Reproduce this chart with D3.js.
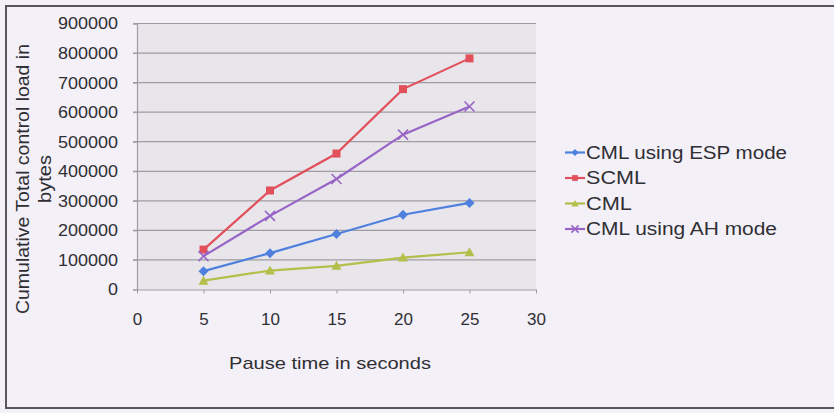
<!DOCTYPE html>
<html>
<head>
<meta charset="utf-8">
<script src="https://cdn.jsdelivr.net/npm/d3@7"></script>
<style>
  html, body { margin: 0; padding: 0; background: #f4f0f8; }
  svg { display: block; }
  text { font-family: "Liberation Sans", Arial, sans-serif; fill: #2f2f33; }
</style>
</head>
<body>
<svg id="chart" width="834" height="413"></svg>
<script>
// Pause time (seconds) on the x axis
const pauseTimes = [5, 10, 15, 20, 25];
const xTicks = [0, 5, 10, 15, 20, 25, 30];
const yTicks = [0, 100000, 200000, 300000, 400000, 500000, 600000, 700000, 800000, 900000];

// Cumulative control load (bytes) per protocol
const espValues  = [62000, 123000, 188000, 253000, 293000];
const scmlValues = [135000, 335000, 460000, 678000, 782000];
const cmlValues  = [30000, 64000, 80000, 108000, 126000];
const ahValues   = [113000, 249000, 374000, 524000, 619000];

const seriesNames = ["CML using ESP mode", "SCML", "CML", "CML using AH mode"];

const series = [
  { name: seriesNames[0], values: espValues,  color: "#4f80de", marker: "diamond" },
  { name: seriesNames[1], values: scmlValues, color: "#e2505c", marker: "square" },
  { name: seriesNames[2], values: cmlValues,  color: "#b3bf4a", marker: "triangle" },
  { name: seriesNames[3], values: ahValues,   color: "#9865c6", marker: "cross" }
];

const svg = d3.select("#chart");

// chart frame
svg.append("rect")
  .attr("x", 6).attr("y", 6).attr("width", 840).attr("height", 402)
  .attr("fill", "#f4f0f8").attr("stroke", "#58565c").attr("stroke-width", 2);

const plot = { left: 137, right: 536, top: 23.5, bottom: 289.5 };

const x = d3.scaleLinear().domain([0, 30]).range([plot.left, plot.right]);
const y = d3.scaleLinear().domain([0, 900000]).range([plot.bottom, plot.top]);

// plot area
svg.append("rect")
  .attr("x", plot.left).attr("y", plot.top)
  .attr("width", plot.right - plot.left).attr("height", plot.bottom - plot.top)
  .attr("fill", "#e8e6eb");

// horizontal gridlines
svg.append("g").selectAll("line")
  .data(yTicks.filter(v => v > 0))
  .join("line")
  .attr("x1", plot.left - 4).attr("x2", plot.right)
  .attr("y1", d => y(d)).attr("y2", d => y(d))
  .attr("stroke", "#9e9ca2").attr("stroke-width", 1.2);

// y axis
const yAxis = svg.append("g")
  .attr("transform", `translate(${plot.left},0)`)
  .call(d3.axisLeft(y).tickValues(yTicks).tickFormat(d3.format("d")).tickSize(4).tickPadding(15));
yAxis.select(".domain").attr("stroke", "#9e9ca2").attr("stroke-width", 1.2);
yAxis.selectAll(".tick line").attr("stroke", "#9e9ca2");
yAxis.selectAll(".tick text")
  .attr("font-size", 17).attr("fill", "#2f2f33")
  .attr("textLength", function () { return this.textContent.length * 10; })
  .attr("lengthAdjust", "spacingAndGlyphs");

// x axis
const xAxis = svg.append("g")
  .attr("transform", `translate(0,${plot.bottom})`)
  .call(d3.axisBottom(x).tickValues(xTicks).tickSize(4).tickPadding(19).tickSizeOuter(0));
xAxis.select(".domain").attr("stroke", "#9e9ca2").attr("stroke-width", 1.2);
xAxis.selectAll(".tick line").attr("stroke", "#9e9ca2");
xAxis.selectAll(".tick text").attr("font-size", 17).attr("fill", "#2f2f33");

// axis titles
svg.append("text")
  .attr("x", 229).attr("y", 369)
  .attr("font-size", 17)
  .attr("textLength", 202).attr("lengthAdjust", "spacingAndGlyphs")
  .text("Pause time in seconds");

const yTitle = svg.append("g").attr("transform", "translate(0,179) rotate(-90)");
yTitle.append("text")
  .attr("x", 0).attr("y", 29).attr("text-anchor", "middle")
  .attr("font-size", 18)
  .attr("textLength", 270).attr("lengthAdjust", "spacingAndGlyphs")
  .text("Cumulative Total control load in");
yTitle.append("text")
  .attr("x", 0).attr("y", 51).attr("text-anchor", "middle")
  .attr("font-size", 18)
  .attr("textLength", 48).attr("lengthAdjust", "spacingAndGlyphs")
  .text("bytes");

// marker shapes
function drawMarker(g, type, color, size) {
  const s = size;
  if (type === "diamond") {
    g.append("path").attr("d", `M0,${-s}L${s},0L0,${s}L${-s},0Z`).attr("fill", color);
  } else if (type === "square") {
    g.append("rect").attr("x", -s * 0.8).attr("y", -s * 0.8)
      .attr("width", s * 1.6).attr("height", s * 1.6).attr("fill", color);
  } else if (type === "triangle") {
    g.append("path").attr("d", `M0,${-s}L${s},${s * 0.8}L${-s},${s * 0.8}Z`).attr("fill", color);
  } else {
    g.append("path").attr("d", `M${-s},${-s}L${s},${s}M${-s},${s}L${s},${-s}`)
      .attr("stroke", color).attr("stroke-width", 1.6).attr("fill", "none");
  }
}

const line = d3.line().x((d, i) => x(pauseTimes[i])).y(d => y(d));

series.forEach(s => {
  const g = svg.append("g");
  g.append("path")
    .attr("d", line(s.values))
    .attr("fill", "none").attr("stroke", s.color).attr("stroke-width", 2.2);
  s.values.forEach((v, i) => {
    const m = g.append("g").attr("transform", `translate(${x(pauseTimes[i])},${y(v)})`);
    drawMarker(m, s.marker, s.color, 5);
  });
});

// legend
const legendWidths = { "CML using ESP mode": 201, "SCML": 60, "CML": 46, "CML using AH mode": 191 };
const legend = svg.append("g").attr("transform", "translate(565,152.5)");
series.forEach((s, i) => {
  const row = legend.append("g").attr("transform", `translate(0,${i * 25.5})`);
  row.append("line").attr("x1", 0).attr("x2", 20).attr("y1", 0).attr("y2", 0)
    .attr("stroke", s.color).attr("stroke-width", 2.2);
  const m = row.append("g").attr("transform", "translate(10,0)");
  drawMarker(m, s.marker, s.color, 3.6);
  row.append("text")
    .attr("x", 21).attr("y", 0).attr("dy", "0.36em")
    .attr("font-size", 18)
    .attr("textLength", legendWidths[s.name])
    .attr("lengthAdjust", "spacingAndGlyphs")
    .text(s.name);
});
</script>
</body>
</html>
